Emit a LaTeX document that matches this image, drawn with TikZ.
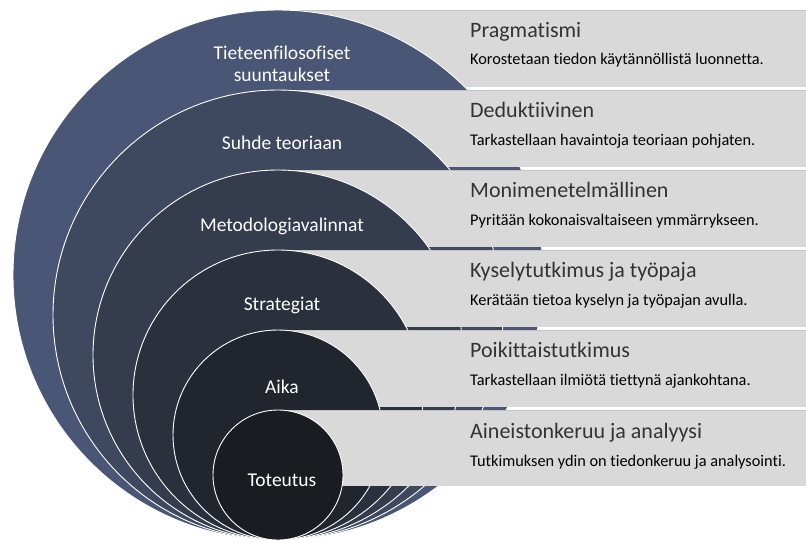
\documentclass[tikz,border=0pt]{standalone}
\usepackage{fontspec}
\setmainfont{Carlito}[Ligatures=NoCommon]
\definecolor{bandgray}{HTML}{D9D9D9}
\definecolor{bandedge}{HTML}{C4C4C4}
\definecolor{ringA}{HTML}{4A5675}
\definecolor{ringB}{HTML}{3E485E}
\definecolor{ringC}{HTML}{343C4E}
\definecolor{ringD}{HTML}{2A303C}
\definecolor{ringE}{HTML}{21252D}
\definecolor{ringF}{HTML}{1A1C21}
\definecolor{titlegray}{HTML}{333333}
\begin{document}
\begin{tikzpicture}[x=1pt,y=-1pt,
  band/.style={fill=bandgray},
  bandtop/.style={draw=bandedge, line width=1pt},
  ring/.style={draw=white, line width=0.9pt},
  ringlabel/.style={text=white, font=\fontsize{19.5}{22}\selectfont, align=center, inner sep=0pt},
  ttl/.style={anchor=base west, inner sep=0pt, text=titlegray, font=\fontsize{22}{26}\selectfont},
  dsc/.style={anchor=base west, inner sep=0pt, text=black, font=\fontsize{16.3}{19}\selectfont}]
\useasboundingbox (0,0) rectangle (806,542);
\fill[white] (0,0) rectangle (806,542);
% layer 1
\fill[band] (278,10) rectangle (806,87);
\draw[bandtop] (278,10.5) -- (806,10.5);
\filldraw[ring, fill=ringA] (278,275) circle[radius=265pt];
% layer 2
\fill[band] (278,90) rectangle (806,167);
\draw[bandtop] (278,90.5) -- (806,90.5);
\filldraw[ring, fill=ringB] (278,315) circle[radius=225pt];
% layer 3
\fill[band] (278,170) rectangle (806,247);
\draw[bandtop] (278,170.5) -- (806,170.5);
\filldraw[ring, fill=ringC] (278,355) circle[radius=185pt];
% layer 4
\fill[band] (278,250) rectangle (806,327);
\draw[bandtop] (278,250.5) -- (806,250.5);
\filldraw[ring, fill=ringD] (278,395) circle[radius=145pt];
% layer 5
\fill[band] (278,330) rectangle (806,407);
\draw[bandtop] (278,330.5) -- (806,330.5);
\filldraw[ring, fill=ringE] (278,435) circle[radius=105pt];
% layer 6
\fill[band] (278,410) rectangle (806,486);
\draw[bandtop] (278,410.5) -- (806,410.5);
\filldraw[ring, fill=ringF] (278,475) circle[radius=65pt];
% ring labels
\node[ringlabel] (l1) at (282,64) {Tieteenfilosofiset\\suuntaukset};
\node[ringlabel] (l2) at (282,143) {Suhde teoriaan};
\node[ringlabel] (l3) at (282,226) {Metodologiavalinnat};
\node[ringlabel] (l4) at (282,305) {Strategiat};
\node[ringlabel] (l5) at (282,387) {Aika};
\node[ringlabel] (l6) at (282,480) {Toteutus};
% band texts
\node[ttl] (t1) at (470,37) {Pragmatismi};
\node[dsc] (d1) at (470,64) {Korostetaan tiedon käytännöllistä luonnetta.};
\node[ttl] (t2) at (470,117) {Deduktiivinen};
\node[dsc] (d2) at (470,145) {Tarkastellaan havaintoja teoriaan pohjaten.};
\node[ttl] (t3) at (470,197) {Monimenetelmällinen};
\node[dsc] (d3) at (470,225) {Pyritään kokonaisvaltaiseen ymmärrykseen.};
\node[ttl] (t4) at (470,277) {Kyselytutkimus ja työpaja};
\node[dsc] (d4) at (470,305) {Kerätään tietoa kyselyn ja työpajan avulla.};
\node[ttl] (t5) at (470,357) {Poikittaistutkimus};
\node[dsc] (d5) at (470,385) {Tarkastellaan ilmiötä tiettynä ajankohtana.};
\node[ttl] (t6) at (470,438) {Aineistonkeruu ja analyysi};
\node[dsc] (d6) at (470,466) {Tutkimuksen ydin on tiedonkeruu ja analysointi.};
\end{tikzpicture}
\end{document}
